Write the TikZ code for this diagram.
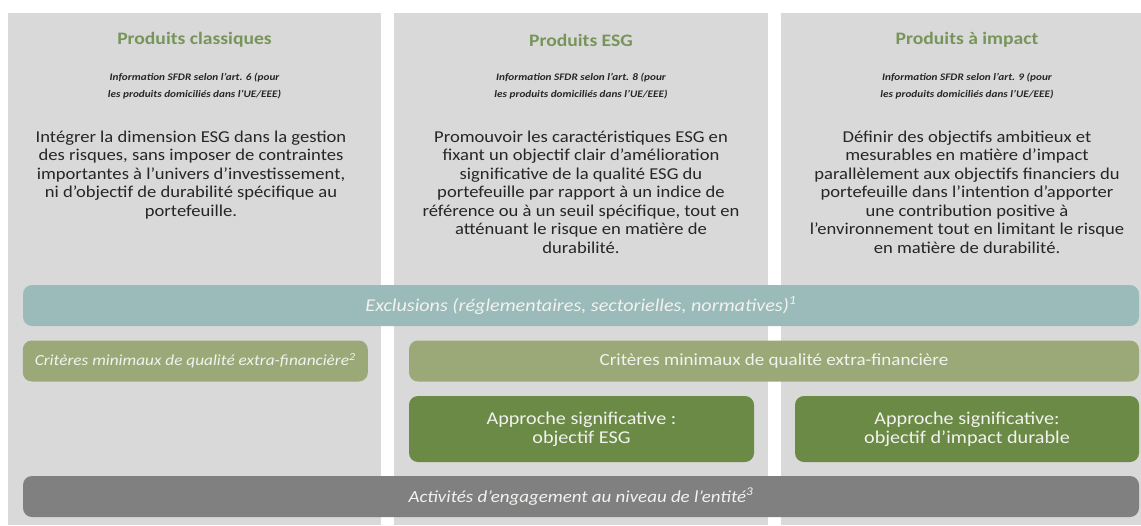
\documentclass[tikz,border=0pt]{standalone}
\usepackage{fontspec}
\setmainfont{Carlito}[FakeStretch=1.12]
\definecolor{colbg}{HTML}{D9D9D9}
\definecolor{exclcol}{HTML}{9BBBBB}
\definecolor{critcol}{HTML}{9BA878}
\definecolor{appcol}{HTML}{6A8A46}
\definecolor{actcol}{HTML}{808080}
\definecolor{titlegreen}{HTML}{77955A}
\definecolor{bodytext}{HTML}{262626}
\definecolor{bartext}{HTML}{F2F2EE}
\begin{document}
\begin{tikzpicture}[x=1pt,y=-1pt,
  colbox/.style={fill=colbg, inner sep=0pt, anchor=north west, minimum height=512pt},
  coltitle/.style={text=titlegreen, font=\fontsize{17.5}{20}\selectfont\bfseries},
  colinfo/.style={text=bodytext, align=center, font=\fontsize{10}{16.5}\selectfont\bfseries\itshape},
  colbody/.style={text=bodytext, align=center, anchor=north, font=\fontsize{16.6}{18.5}\selectfont},
  bar/.style={rounded corners=9pt, inner sep=0pt, minimum height=41pt, text=bartext},
  exclbar/.style={bar, fill=exclcol, font=\fontsize{18}{20}\selectfont\itshape},
  critbar/.style={bar, fill=critcol},
  appbox/.style={bar, fill=appcol, minimum height=66pt, align=center, font=\fontsize{18}{19}\selectfont},
  actbar/.style={bar, fill=actcol, font=\fontsize{16.9}{20}\selectfont\itshape}
]
\useasboundingbox (0,0) rectangle (1141,525);
\fill[white] (0,0) rectangle (1141,525);
% columns
\node[colbox, minimum width=373pt] (c1) at (8,13) {};
\node[colbox, minimum width=374pt] (c2) at (394,13) {};
\node[colbox, minimum width=360pt] (c3) at (781,13) {};
% titles
\node[coltitle] (t1) at (194.5,40) {Produits classiques};
\node[coltitle] (t2) at (581,40) {Produits ESG};
\node[coltitle] (t3) at (967,40) {Produits à impact};
% info
\node[colinfo] (i1) at (194.5,86) {Information SFDR selon l’art. 6 (pour\\les produits domiciliés dans l’UE/EEE)};
\node[colinfo] (i2) at (581,86) {Information SFDR selon l’art. 8 (pour\\les produits domiciliés dans l’UE/EEE)};
\node[colinfo] (i3) at (967,86) {Information SFDR selon l’art. 9 (pour\\les produits domiciliés dans l’UE/EEE)};
% bodies
\node[colbody] (b1) at (191,127) {Intégrer la dimension ESG dans la gestion\\des risques, sans imposer de contraintes\\importantes à l’univers d’investissement,\\ni d’objectif de durabilité spécifique au\\portefeuille.};
\node[colbody] (b2) at (581,127) {Promouvoir les caractéristiques ESG en\\fixant un objectif clair d’amélioration\\significative de la qualité ESG du\\portefeuille par rapport à un indice de\\référence ou à un seuil spécifique, tout en\\atténuant le risque en matière de\\durabilité.};
\node[colbody] (b3) at (967,127) {Définir des objectifs ambitieux et\\mesurables en matière d’impact\\parallèlement aux objectifs financiers du\\portefeuille dans l’intention d’apporter\\une contribution positive à\\l’environnement tout en limitant le risque\\en matière de durabilité.};
% bars
\node[exclbar, minimum width=1116pt] (excl) at (581,305.5) {Exclusions (réglementaires, sectorielles, normatives)\textsuperscript{1}};
\node[critbar, minimum width=345pt, font=\fontsize{15.4}{17}\selectfont\itshape] (crit1) at (195.3,361) {Critères minimaux de qualité extra-financière\textsuperscript{2}};
\node[critbar, minimum width=730pt, font=\fontsize{17}{19}\selectfont] (crit2) at (774,361) {Critères minimaux de qualité extra-financière};
\node[appbox, minimum width=345pt] (app1) at (581.5,429) {Approche significative :\\objectif ESG};
\node[appbox, minimum width=344pt] (app2) at (967,429) {Approche significative:\\objectif d’impact durable};
\node[actbar, minimum width=1116pt] (act) at (581,496.5) {Activités d’engagement au niveau de l’entité\textsuperscript{3}};
\end{tikzpicture}
\end{document}
